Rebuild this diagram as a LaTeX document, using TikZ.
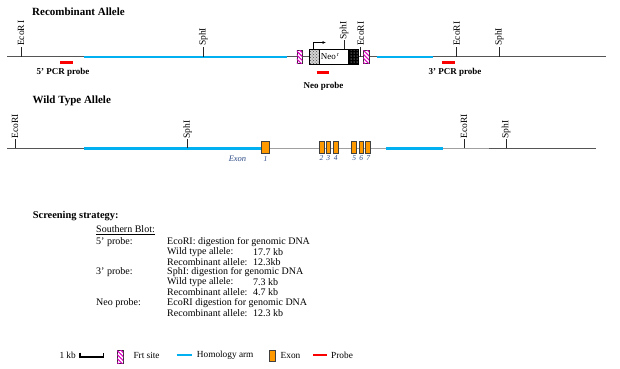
\documentclass[tikz,border=0pt]{standalone}
\usepackage{fontspec}
\setmainfont{Liberation Serif}
\usetikzlibrary{arrows.meta,patterns,patterns.meta}
\definecolor{armc}{RGB}{0,176,240}
\definecolor{probec}{RGB}{250,0,0}
\definecolor{exonc}{RGB}{255,153,0}
\definecolor{frtc}{RGB}{225,0,200}
\definecolor{chromc}{RGB}{85,85,85}
\definecolor{chromlight}{RGB}{160,160,160}
\definecolor{exlabc}{RGB}{45,75,135}
\tikzset{
  chrom/.style={draw=chromc, line width=1.1pt},
  chroml/.style={draw=chromlight, line width=1.1pt},
  arm/.style={draw=armc, line width=2.4pt},
  probe/.style={draw=probec, line width=2.8pt},
  frt/.style={draw=black!80, line width=0.5pt, fill=white,
    postaction={pattern={Lines[angle=-45,distance=2.8pt,line width=1.1pt]}, pattern color=frtc}},
  exonbox/.style={draw=black!75, fill=exonc, line width=0.5pt},
  tick/.style={draw=black!85, line width=0.8pt},
  sitelab/.style={rotate=90, anchor=west, font=\fontsize{9.5}{10}\selectfont, inner sep=0.5pt},
  titlelab/.style={font=\fontsize{11}{12}\selectfont\bfseries, anchor=west, inner sep=0},
  plab/.style={font=\fontsize{9}{10}\selectfont\bfseries, inner sep=0},
  stext/.style={font=\fontsize{10}{11}\selectfont, anchor=west, inner sep=0},
  leg/.style={font=\fontsize{9.3}{10}\selectfont, anchor=west, inner sep=0},
  exnum/.style={font=\fontsize{7.5}{8}\selectfont\itshape, text=exlabc, inner sep=0},
}
\begin{document}
\begin{tikzpicture}[x=1pt,y=-1pt]
\useasboundingbox (0,0) rectangle (620,368);
\fill[white] (0,0) rectangle (620,368);

% ---------------- Recombinant allele ----------------
\node[titlelab] (t1) at (32,11.5) {Recombinant Allele};
\coordinate (r0) at (7,56.7);
\coordinate (r1) at (606,56.7);
\draw[chrom] (r0) -- (r1);
\coordinate (ra1) at (84.3,56.7); \coordinate (ra2) at (287.3,56.7);
\coordinate (ra3) at (377.3,56.7); \coordinate (ra4) at (432.7,56.7);
\draw[arm] (ra1) -- (ra2);
\draw[arm] (ra3) -- (ra4);

% sites
\coordinate (re1) at (21,56.7);
\draw[tick] (re1) -- ++(0,-10) node[sitelab] (re1l) {EcoR\,I};
\coordinate (rs1) at (203.3,56.7);
\draw[tick] (rs1) -- ++(0,-10) node[sitelab] (rs1l) {SphI};
\coordinate (re2) at (360.7,56.7);
\draw[tick] (re2) -- ++(0,-10) node[sitelab] (re2l) {EcoRI};
\coordinate (re3) at (456.7,56.7);
\draw[tick] (re3) -- ++(0,-10) node[sitelab] (re3l) {EcoRI};
\coordinate (rs3) at (499.3,56.7);
\draw[tick] (rs3) -- ++(0,-10) node[sitelab] (rs3l) {SphI};

% Frt sites
\path[frt] (296.8,50) rectangle (302.4,63.5);
\path[frt] (363.4,50) rectangle (369.2,63.5);

% Neo cassette
\path[draw=black, fill=white, line width=0.6pt] (309.3,49.3) rectangle (358.3,64);
\path[fill=gray!35, postaction={pattern=crosshatch dots, pattern color=black!70}] (309.3,49.3) rectangle (319.3,64);
\path[fill=black, postaction={pattern=dots, pattern color=white}] (348.3,49.3) rectangle (358.3,64);
\draw[black, line width=0.6pt] (309.3,49.3) rectangle (358.3,64);
\draw[black, line width=0.6pt] (319.3,49.3) -- (319.3,64);
\draw[black, line width=0.6pt] (348.3,49.3) -- (348.3,64);
\node[font=\fontsize{9}{10}\selectfont, inner sep=0] (neo) at (330,56.6) {Neo\textsuperscript{\,r}};
\coordinate (pa0) at (313.3,49.3);
\coordinate (pa1) at (313.3,42.5);
\coordinate (pa2) at (326,42.5);
\draw[black, line width=0.7pt, -{Latex[length=3.5pt,width=3pt]}] (pa0) -- (pa1) -- (pa2);
\coordinate (rs2) at (344,49.3);
\draw[tick] (rs2) -- ++(0,-9) node[sitelab] (rs2l) {SphI};

% probes
\coordinate (p5a) at (60,62.3); \coordinate (p5b) at (72.7,62.3);
\draw[probe] (p5a) -- (p5b);
\node[plab] (p5l) at (63,72) {5' PCR probe};
\coordinate (pna) at (316.7,72.3); \coordinate (pnb) at (329.3,72.3);
\draw[probe] (pna) -- (pnb);
\node[plab] (pnl) at (323.5,86.5) {Neo probe};
\coordinate (p3a) at (442.3,62.3); \coordinate (p3b) at (454.7,62.3);
\draw[probe] (p3a) -- (p3b);
\node[plab] (p3l) at (455,72.3) {3' PCR probe};

% ---------------- Wild type allele ----------------
\node[titlelab] (t2) at (32.3,101) {Wild Type Allele};
\coordinate (w0) at (7,148.3);
\coordinate (wm) at (262,148.3);
\coordinate (wn) at (489,148.3);
\coordinate (w1) at (596,148.3);
\draw[chrom] (w0) -- (wm);
\draw[chroml] (wm) -- (wn);
\draw[chrom] (wn) -- (w1);
\coordinate (wa1) at (84.3,148.3); \coordinate (wa2) at (261.7,148.3);
\coordinate (wa3) at (386,148.3); \coordinate (wa4) at (442.7,148.3);
\draw[arm] (wa1) -- (wa2);
\draw[arm] (wa3) -- (wa4);

\coordinate (we1) at (15,148.3);
\draw[tick] (we1) -- ++(0,-9) node[sitelab] (we1l) {EcoRI};
\coordinate (ws1) at (187.7,148.3);
\draw[tick] (ws1) -- ++(0,-9) node[sitelab] (ws1l) {SphI};
\coordinate (we2) at (464,148.3);
\draw[tick] (we2) -- ++(0,-9) node[sitelab] (we2l) {EcoRI};
\coordinate (ws2) at (506,148.3);
\draw[tick] (ws2) -- ++(0,-9) node[sitelab] (ws2l) {SphI};

% exons
\path[exonbox] (261.7,141.7) rectangle (269.3,153.3);
\path[exonbox] (319,141.7) rectangle (323.8,153.3);
\path[exonbox] (325.8,141.7) rectangle (330.6,153.3);
\path[exonbox] (333.3,141.7) rectangle (338.3,153.3);
\path[exonbox] (351.7,141.7) rectangle (356.7,153.3);
\path[exonbox] (359,141.7) rectangle (363.6,153.3);
\path[exonbox] (365.7,141.7) rectangle (370.7,153.3);
\node[exnum, font=\fontsize{8.5}{9}\selectfont\itshape] (exl) at (237.5,159) {Exon};
\node[exnum] (e1) at (265.5,159) {1};
\node[exnum] (e2) at (321.4,158.5) {2};
\node[exnum] (e3) at (328.2,158.5) {3};
\node[exnum] (e4) at (335.8,158.5) {4};
\node[exnum] (e5) at (354.2,158.5) {5};
\node[exnum] (e6) at (361.3,158.5) {6};
\node[exnum] (e7) at (368.2,158.5) {7};

% ---------------- Screening strategy ----------------
\node[stext, font=\fontsize{10.4}{11}\selectfont\bfseries] (ss) at (32.7,216) {Screening strategy:};
\node[stext] (sb) at (96,230.5) {\underline{Southern Blot:}};
\node[stext] (c1a) at (96,241.7) {5' probe:};
\node[stext] (c2a) at (167,241.7) {EcoRI: digestion for genomic DNA};
\node[stext] (c2b) at (167,251.8) {Wild type allele:};
\node[stext] (c3b) at (253,251.8) {17.7 kb};
\node[stext] (c2c) at (167,262) {Recombinant allele:};
\node[stext] (c3c) at (253,262) {12.3kb};
\node[stext] (c1d) at (96,272.1) {3' probe:};
\node[stext] (c2d) at (167,272.1) {SphI: digestion for genomic DNA};
\node[stext] (c2e) at (167,282.3) {Wild type allele:};
\node[stext] (c3e) at (253,282.3) {7.3 kb};
\node[stext] (c2f) at (167,292.4) {Recombinant allele:};
\node[stext] (c3f) at (253,292.4) {4.7 kb};
\node[stext] (c1g) at (96,302.6) {Neo probe:};
\node[stext] (c2g) at (167,302.6) {EcoRI digestion for genomic DNA};
\node[stext] (c2h) at (167,312.7) {Recombinant allele:};
\node[stext] (c3h) at (253,312.7) {12.3 kb};

% ---------------- Legend ----------------
\node[leg] (l1) at (59.3,355) {1 kb};
\coordinate (kb0) at (80,352.5);
\coordinate (kb1) at (80,356.7);
\coordinate (kb2) at (103.5,356.7);
\coordinate (kb3) at (103.5,352.5);
\draw[black, line width=1.8pt] (kb0) -- (kb1) -- (kb2) -- (kb3);
\path[frt] (117.3,350.7) rectangle (123.3,363.3);
\node[leg] (l2) at (133.3,355) {Frt site};
\coordinate (la1) at (176.7,355); \coordinate (la2) at (191.7,355);
\draw[arm] (la1) -- (la2);
\node[leg] (l3) at (196.7,355) {Homology arm};
\path[exonbox] (269.5,350.7) rectangle (275,361.7);
\node[leg] (l4) at (280.5,355) {Exon};
\coordinate (lp1) at (313.3,355); \coordinate (lp2) at (327.3,355);
\draw[probe] (lp1) -- (lp2);
\node[leg] (l5) at (331,355) {Probe};
\end{tikzpicture}
\end{document}
